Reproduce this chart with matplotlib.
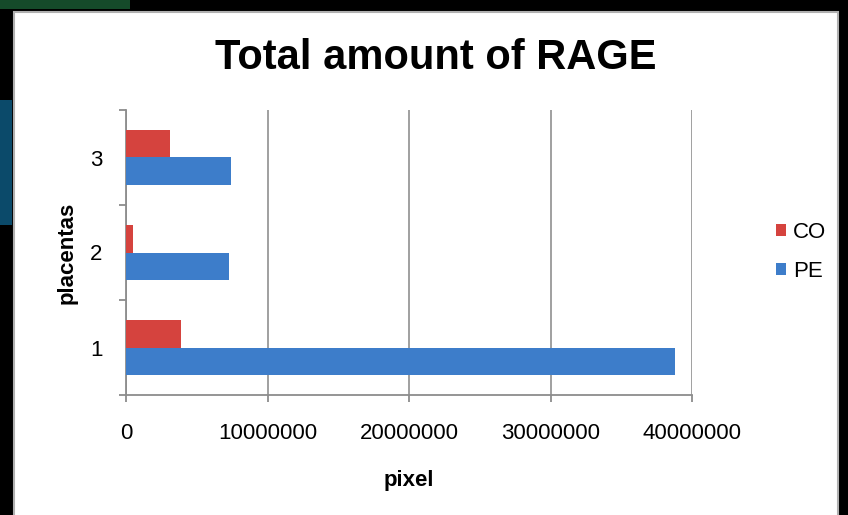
import matplotlib
matplotlib.use('Agg')
import matplotlib.pyplot as plt
from matplotlib.patches import Rectangle
import numpy as np

plt.rcParams['font.family'] = ['Liberation Sans', 'DejaVu Sans']

# data
placentas = ['1', '2', '3']
co_values = [3.9e6, 0.5e6, 3.1e6]
pe_values = [38.8e6, 7.3e6, 7.4e6]
x_ticks = [0, 10000000, 20000000, 30000000, 40000000]

red = '#d5433e'
blue = '#3d7dca'
grey = '#8c8c8c'

fig = plt.figure(figsize=(8.48, 5.15), dpi=100, facecolor='black')

# white chart area inside the black frame of the screenshot
fig.patches.append(Rectangle((14 / 848, -0.01), (838 - 14) / 848, 1.01 - 12 / 515, transform=fig.transFigure,
                             facecolor='white', edgecolor='#b0b0b0', linewidth=1.5, zorder=-5))
# bits of coloured background peeking out at the edges
fig.patches.append(Rectangle((0, 1 - 225 / 515), 12 / 848, 125 / 515, transform=fig.transFigure,
                             facecolor='#0b4a6a', edgecolor='none', zorder=-5))
fig.patches.append(Rectangle((0, 1 - 9 / 515), 130 / 848, 9 / 515, transform=fig.transFigure,
                             facecolor='#154a2a', edgecolor='none', zorder=-5))

ax = fig.add_axes([126 / 848, 1 - 395 / 515, (692 - 126) / 848, (395 - 110) / 515])
ax.set_facecolor('white')

y = np.arange(1, len(placentas) + 1)
h = 0.285
ax.barh(y + h / 2, co_values, height=h, color=red, label='CO', zorder=3)
ax.barh(y - h / 2, pe_values, height=h, color=blue, label='PE', zorder=3)

ax.set_xlim(0, 40000000)
ax.set_ylim(0.5, len(placentas) + 0.5)

ax.set_xticks(x_ticks)
ax.set_xticklabels([str(v) for v in x_ticks], fontsize=16)
ax.set_yticks(y)
ax.set_yticklabels(placentas, fontsize=16)
ax.set_yticks(np.arange(0.5, len(placentas) + 1), minor=True)

ax.tick_params(axis='x', length=5, width=1.3, color=grey, pad=15)
ax.tick_params(axis='y', which='major', length=0, pad=17)
ax.tick_params(axis='y', which='minor', length=5, width=1.3, color=grey)

ax.grid(axis='x', color='#999999', linewidth=1.3, zorder=1)
ax.spines['top'].set_visible(False)
ax.spines['right'].set_visible(False)
for s in ['left', 'bottom']:
    ax.spines[s].set_color(grey)
    ax.spines[s].set_linewidth(1.3)

ax.set_xlabel('pixel', fontsize=16, fontweight='bold', labelpad=19)
ax.set_ylabel('placentas', fontsize=16, fontweight='bold', labelpad=9)

fig.text(436 / 848, 1 - 58 / 515, 'Total amount of RAGE', fontsize=30, fontweight='bold',
         ha='center', va='center')

ax.legend(loc='center left', bbox_to_anchor=(756 / 848, 1 - 252 / 515), bbox_transform=fig.transFigure,
          frameon=False, fontsize=16, handlelength=0.45, handleheight=0.45, handletextpad=0.3,
          labelspacing=0.8)

fig.savefig('out.png', dpi=100, facecolor=fig.get_facecolor())
